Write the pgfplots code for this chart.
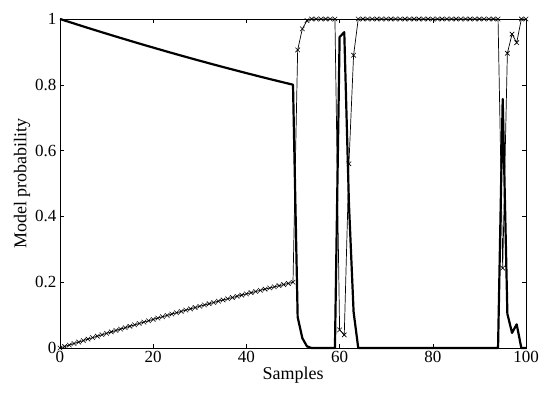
\documentclass[border=0pt]{standalone}
\usepackage{pgfplots}
\usepackage{pgfplotstable}
\pgfplotsset{compat=1.18}
\usepackage{fontspec}
\setmainfont{Liberation Serif}
\pgfplotstableread{
x a b
0 1.0000 0.0000
1 0.9954 0.0046
2 0.9909 0.0091
3 0.9864 0.0136
4 0.9819 0.0181
5 0.9774 0.0226
6 0.9729 0.0271
7 0.9685 0.0315
8 0.9641 0.0359
9 0.9597 0.0403
10 0.9554 0.0446
11 0.9510 0.0490
12 0.9467 0.0533
13 0.9424 0.0576
14 0.9382 0.0618
15 0.9339 0.0661
16 0.9297 0.0703
17 0.9255 0.0745
18 0.9213 0.0787
19 0.9172 0.0828
20 0.9131 0.0869
21 0.9090 0.0910
22 0.9049 0.0951
23 0.9008 0.0992
24 0.8968 0.1032
25 0.8928 0.1072
26 0.8888 0.1112
27 0.8849 0.1151
28 0.8809 0.1191
29 0.8770 0.1230
30 0.8731 0.1269
31 0.8693 0.1307
32 0.8654 0.1346
33 0.8616 0.1384
34 0.8578 0.1422
35 0.8540 0.1460
36 0.8503 0.1497
37 0.8466 0.1534
38 0.8429 0.1571
39 0.8392 0.1608
40 0.8355 0.1645
41 0.8319 0.1681
42 0.8283 0.1717
43 0.8247 0.1753
44 0.8211 0.1789
45 0.8176 0.1824
46 0.8141 0.1859
47 0.8106 0.1894
48 0.8071 0.1929
49 0.8037 0.1963
50 0.8002 0.1998
51 0.094 0.906
52 0.030 0.970
53 0.005 0.995
54 0 1
55 0 1
56 0 1
57 0 1
58 0 1
59 0 1
60 0.945 0.055
61 0.960 0.040
62 0.440 0.560
63 0.110 0.890
64 0 1
65 0 1
66 0 1
67 0 1
68 0 1
69 0 1
70 0 1
71 0 1
72 0 1
73 0 1
74 0 1
75 0 1
76 0 1
77 0 1
78 0 1
79 0 1
80 0 1
81 0 1
82 0 1
83 0 1
84 0 1
85 0 1
86 0 1
87 0 1
88 0 1
89 0 1
90 0 1
91 0 1
92 0 1
93 0 1
94 0 1
95 0.757 0.243
96 0.104 0.896
97 0.046 0.954
98 0.072 0.928
99 0 1
100 0 1
}\datatable
\begin{document}
\begin{tikzpicture}
\begin{axis}[
  width=466pt, height=329pt, scale only axis,
  xmin=0, xmax=100, ymin=0, ymax=1,
  xtick={0,20,40,60,80,100},
  ytick={0,0.2,0.4,0.6,0.8,1},
  yticklabels={0,0.2,0.4,0.6,0.8,1},
  tick align=inside,
  major tick length=4pt,
  tick style={black, line width=0.6pt},
  axis line style={line width=0.8pt},
  ticklabel style={font={\fontsize{17}{20}\selectfont}},
  /pgf/number format/assume math mode=true,
  label style={font={\fontsize{18}{21}\selectfont}},
  xlabel={Samples},
  ylabel={Model probability},
  xlabel style={yshift=3pt},
  ylabel style={yshift=-2pt},
  clip=false,
]
\coordinate (bl) at (rel axis cs:0,0);
\coordinate (tr) at (rel axis cs:1,1);
\addplot[black, line width=0.7pt, mark=x, mark size=3.2pt, mark options={line width=0.6pt}] table[x=x, y=b] {\datatable};
\addplot[black, line width=2.2pt, line join=round] table[x=x, y=a] {\datatable};
\end{axis}
\pgfresetboundingbox
\path ([shift={(-60pt,-49pt)}]bl) rectangle ([shift={(24pt,19pt)}]tr);
\end{tikzpicture}
\end{document}
